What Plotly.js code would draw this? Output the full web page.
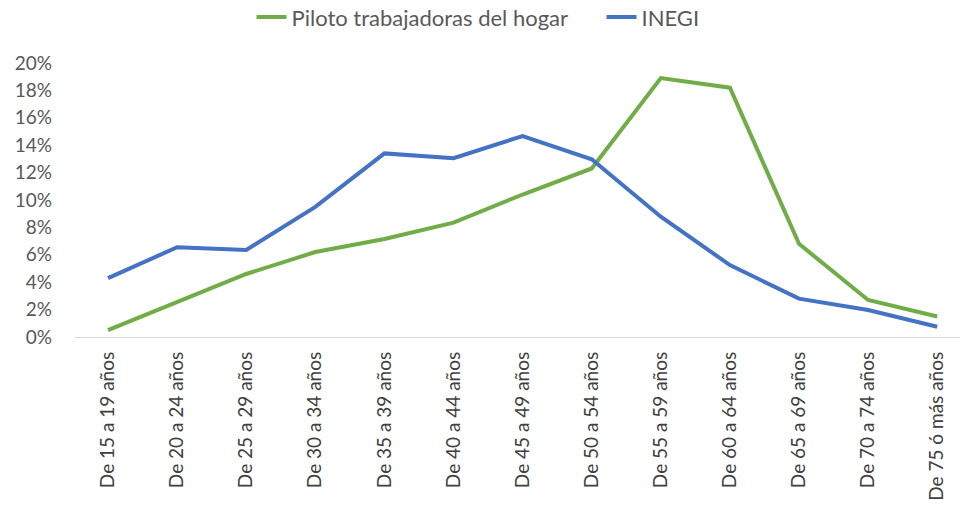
<!DOCTYPE html>
<html><head><meta charset="utf-8">
<script src="https://cdn.plot.ly/plotly-3.0.1.min.js"></script>
<style>html,body{margin:0;padding:0;background:#fff}#chart{width:960px;height:506px}</style>
</head><body><div id="chart"></div>
<script>
const categories = ["De 15 a 19 años","De 20 a 24 años","De 25 a 29 años","De 30 a 34 años","De 35 a 39 años","De 40 a 44 años","De 45 a 49 años","De 50 a 54 años","De 55 a 59 años","De 60 a 64 años","De 65 a 69 años","De 70 a 74 años","De 75 ó más años"];
const piloto = [0.005,0.0255,0.046,0.062,0.0715,0.0835,0.104,0.123,0.189,0.182,0.068,0.027,0.015];
const inegi = [0.043,0.0655,0.0635,0.095,0.134,0.1305,0.1467,0.1297,0.0878,0.0525,0.028,0.0197,0.0075];
const yTicks = [0,0.02,0.04,0.06,0.08,0.10,0.12,0.14,0.16,0.18,0.20];

const traces = [
  {x: categories, y: piloto, name: "Piloto trabajadoras del hogar", type: "scatter", mode: "lines",
   line: {color: "#70AD47", width: 4}},
  {x: categories, y: inegi, name: "INEGI", type: "scatter", mode: "lines",
   line: {color: "#4472C4", width: 4}}
];
const layout = {
  width: 960, height: 506,
  margin: {l: 75, r: 0, t: 63, b: 169},
  paper_bgcolor: "#ffffff", plot_bgcolor: "rgba(0,0,0,0)",
  font: {family: "Lato, Open Sans, sans-serif", color: "#595959"},
  showlegend: true,
  legend: {orientation: "h", xref: "container", yref: "container", x: 0.262, xanchor: "left", y: 0.966, yanchor: "middle",
    entrywidth: 305, entrywidthmode: "pixels",
    font: {size: 22, color: "#595959", family: "Lato, sans-serif"}, bgcolor: "rgba(0,0,0,0)"},
  xaxis: {type: "category", range: [-0.478, 12.33], tickangle: -90, showgrid: false, zeroline: false,
    showline: false, ticks: "", ticklabelstandoff: 10, tickfont: {size: 19, color: "#404040", family: "Lato, sans-serif"}, automargin: false},
  yaxis: {range: [0, 0.2], tickvals: yTicks, tickformat: ".0%", showgrid: false, zeroline: true,
    zerolinecolor: "#d9d9d9", zerolinewidth: 1, showline: false, ticks: "", ticklabelstandoff: 22,
    tickfont: {size: 19, color: "#595959", family: "Lato, sans-serif"}, automargin: false}
};
Plotly.newPlot("chart", traces, layout, {displayModeBar: false, staticPlot: true});
</script></body></html>
